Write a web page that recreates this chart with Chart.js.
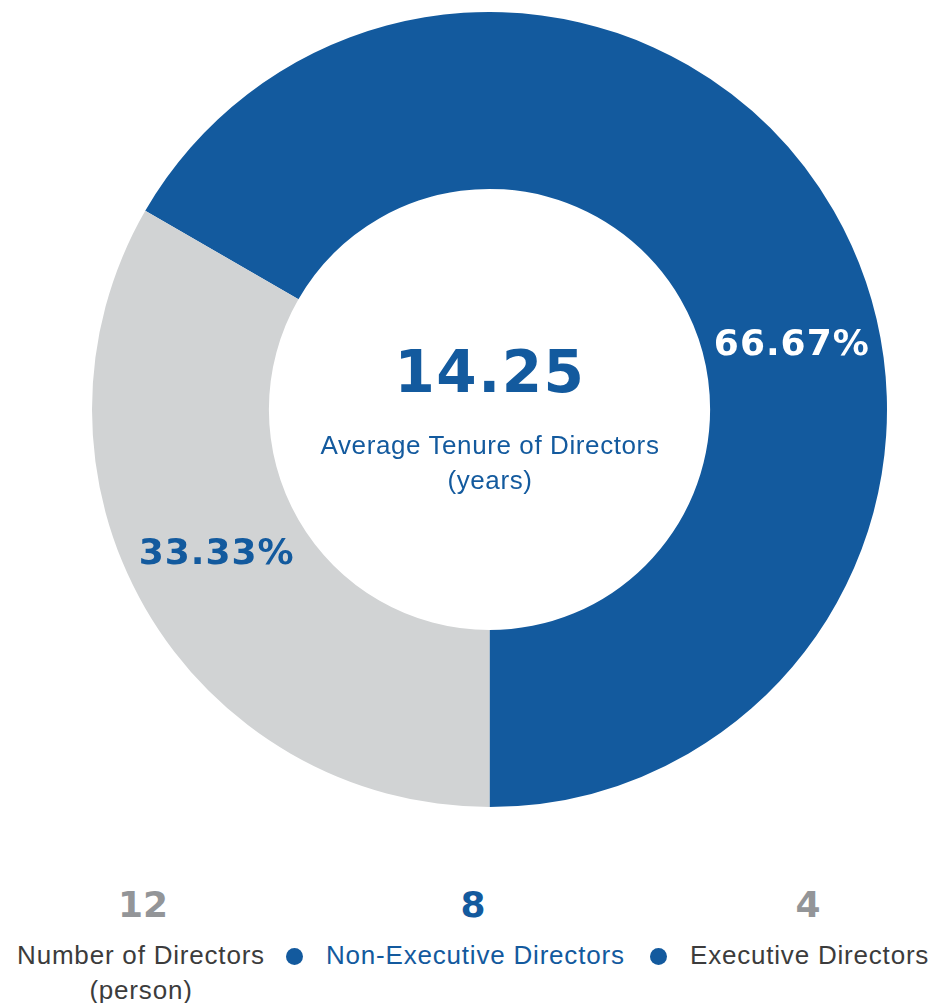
<!DOCTYPE html>
<html>
<head>
<meta charset="utf-8">
<script src="https://cdn.jsdelivr.net/npm/chart.js@4.4.1/dist/chart.umd.min.js"></script>
<style>
  html, body { margin: 0; padding: 0; background: #fff; }
  body { width: 930px; height: 1003px; position: relative; overflow: hidden; font-family: "Liberation Sans", Arial, sans-serif; }
  #chartBox { position: absolute; left: 92px; top: 12px; width: 795px; height: 795px; }
  .center { position: absolute; left: 240px; width: 500px; text-align: center; color: #135a9e; }
  #avgValue { top: 338px; font-family: "DejaVu Sans", sans-serif; font-weight: bold; font-size: 58px; letter-spacing: 1.5px; }
  #avgLabel { top: 428px; font-size: 26px; line-height: 35px; letter-spacing: 0.6px; }
  .num { position: absolute; top: 884px; width: 120px; text-align: center; font-family: "DejaVu Sans", sans-serif; font-weight: bold; font-size: 36px; color: #939598; }
  .lbl { position: absolute; top: 938px; font-size: 26px; line-height: 35px; letter-spacing: 0.8px; color: #3c3c3c; white-space: nowrap; }
  .dot { display: inline-block; width: 17px; height: 17px; border-radius: 50%; background: #135a9e; vertical-align: -1px; margin-right: 23px; }
</style>
</head>
<body>
<div id="chartBox"><canvas id="donut"></canvas></div>
<div class="center" id="avgValue"></div>
<div class="center" id="avgLabel"></div>
<div class="num" id="numTotal" style="left:83px"></div>
<div class="num" id="numNonExec" style="left:413px;color:#135a9e"></div>
<div class="num" id="numExec" style="left:748px"></div>
<div class="lbl" style="left:-10px;width:302px;text-align:center" id="lblTotal"></div>
<div class="lbl" style="left:286px;color:#135a9e" id="lblNonExec"></div>
<div class="lbl" style="left:650px" id="lblExec"></div>
<script>
// Chart data
const categories = ['Non-Executive Directors', 'Executive Directors'];
const directorCounts = [8, 4];
const shareLabels = ['66.67%', '33.33%'];
const sliceColors = ['#135a9e', '#d1d3d4'];
const shareColors = ['#ffffff', '#135a9e'];
const avgTenure = '14.25';
const totalDirectors = 12;

// Text around the chart
document.getElementById('avgValue').textContent = avgTenure;
document.getElementById('avgLabel').innerHTML = 'Average Tenure of Directors<br>(years)';
document.getElementById('numTotal').textContent = totalDirectors;
document.getElementById('numNonExec').textContent = directorCounts[0];
document.getElementById('numExec').textContent = directorCounts[1];
document.getElementById('lblTotal').innerHTML = 'Number of Directors<br>(person)';
document.getElementById('lblNonExec').innerHTML = '<span class="dot"></span>' + categories[0];
document.getElementById('lblExec').innerHTML = '<span class="dot"></span>' + categories[1];

// Percentage text placed at mid-ring, angle measured clockwise from top
const shareText = {
  id: 'shareText',
  afterDatasetsDraw(chart, args, opts) {
    const ctx = chart.ctx;
    const arcs = chart.getDatasetMeta(0).data;
    ctx.save();
    ctx.font = 'bold 36px "DejaVu Sans"';
    ctx.letterSpacing = '1px';
    ctx.textAlign = 'center';
    ctx.textBaseline = 'middle';
    arcs.forEach((arc, i) => {
      const r = (arc.innerRadius + arc.outerRadius) / 2;
      const a = (opts.angles[i] - 90) * Math.PI / 180;
      ctx.fillStyle = shareColors[i];
      ctx.fillText(shareLabels[i], arc.x + r * Math.cos(a), arc.y + r * Math.sin(a));
    });
    ctx.restore();
  }
};

new Chart(document.getElementById('donut'), {
  type: 'doughnut',
  data: {
    labels: categories,
    datasets: [{
      data: directorCounts,
      backgroundColor: sliceColors,
      borderWidth: 0
    }]
  },
  options: {
    responsive: true,
    maintainAspectRatio: false,
    animation: false,
    cutout: '55.5%',
    rotation: -60,
    layout: { padding: 0 },
    plugins: {
      legend: { display: false },
      tooltip: { enabled: false },
      shareText: { angles: [78, 242] }
    }
  },
  plugins: [shareText]
});
</script>
</body>
</html>
